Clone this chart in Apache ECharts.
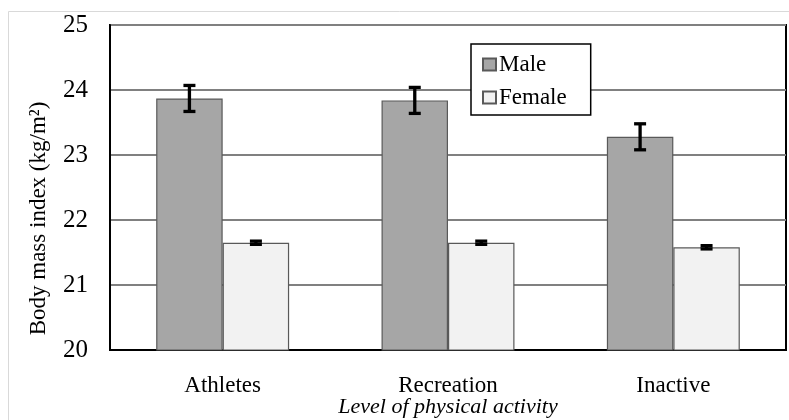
<!DOCTYPE html>
<html>
<head>
<meta charset="utf-8">
<script src="https://cdn.jsdelivr.net/npm/echarts@6/dist/echarts.min.js"></script>
<style>
html,body{margin:0;padding:0;background:#fff;}
#c{width:789px;height:420px;}
</style>
</head>
<body>
<div id="c"></div>
<script>
const categories = ['Athletes', 'Recreation', 'Inactive'];
const maleValues = [23.87, 23.84, 23.28];
const maleErrors = [0.2, 0.2, 0.2];
const femaleValues = [21.65, 21.65, 21.58];
const femaleErrors = [0.025, 0.025, 0.025];
const yTicks = [20, 21, 22, 23, 24, 25];

const FONT = '"Liberation Serif", "Times New Roman", serif';
const CAT_GAP = 0.41;

function errData(vals, errs) {
  return vals.map((v, i) => [i, v - errs[i], v + errs[i]]);
}
function errRender(side) {
  return function (params, api) {
    const i = api.value(0);
    const lo = api.coord([i, api.value(1)]);
    const hi = api.coord([i, api.value(2)]);
    const bw = api.size([1, 0])[0] * (1 - CAT_GAP) / 2;
    const x = lo[0] + side * bw / 2;
    const cap = 6;
    const st = { stroke: '#000', lineWidth: 3.3 };
    return {
      type: 'group',
      children: [
        { type: 'line', shape: { x1: x, y1: lo[1], x2: x, y2: hi[1] }, style: st },
        { type: 'line', shape: { x1: x - cap, y1: lo[1], x2: x + cap, y2: lo[1] }, style: st },
        { type: 'line', shape: { x1: x - cap, y1: hi[1], x2: x + cap, y2: hi[1] }, style: st }
      ]
    };
  };
}

const chart = echarts.init(document.getElementById('c'));
chart.setOption({
  animation: false,
  backgroundColor: '#fff',
  graphic: [{
    type: 'rect', left: 6, top: 9, z: -10,
    shape: { width: 790, height: 420 },
    style: { fill: 'none', stroke: '#d9d9d9', lineWidth: 1 }
  }],
  grid: {
    left: 110, right: 3, top: 25, bottom: 70, show: true,
    borderColor: '#000', borderWidth: 2, backgroundColor: 'transparent',
    containLabel: false, outerBoundsMode: 'none'
  },
  legend: {
    orient: 'vertical', left: 471, top: 44,
    data: ['Male', 'Female'],
    backgroundColor: '#fff', borderColor: '#000', borderWidth: 1.5,
    padding: [9, 24, 6, 11], itemGap: 10, itemWidth: 13, itemHeight: 12,
    textStyle: { fontFamily: FONT, fontSize: 23, color: '#000', padding: [0, 0, 0, -2] },
    icon: 'rect'
  },
  xAxis: {
    type: 'category', data: categories,
    axisLine: { show: true, lineStyle: { color: '#000', width: 2 } },
    axisTick: { show: false },
    axisLabel: { fontFamily: FONT, fontSize: 23, color: '#000', margin: 24 },
    name: 'Level of physical activity', nameLocation: 'middle', nameGap: 46,
    nameMoveOverlap: false,
    nameTextStyle: { fontFamily: FONT, fontSize: 22, fontStyle: 'italic', color: '#000' }
  },
  yAxis: {
    type: 'value', min: yTicks[0], max: yTicks[yTicks.length - 1], interval: 1,
    axisLine: { show: true, lineStyle: { color: '#000', width: 2 } },
    axisTick: { show: false },
    axisLabel: { fontFamily: FONT, fontSize: 25, color: '#000', margin: 22 },
    splitLine: { show: true, lineStyle: { color: '#808080', width: 2 } },
    name: 'Body mass index (kg/m²)', nameLocation: 'middle', nameGap: 60,
    nameMoveOverlap: false,
    nameTextStyle: { fontFamily: FONT, fontSize: 23, color: '#000', padding: [0, 62, 0, 0] }
  },
  series: [
    {
      name: 'Male', type: 'bar', data: maleValues,
      barGap: '0%', barCategoryGap: (CAT_GAP * 100) + '%',
      itemStyle: { color: '#a6a6a6', borderColor: '#595959', borderWidth: 1.2 }
    },
    {
      name: 'Female', type: 'bar', data: femaleValues,
      barGap: '0%', barCategoryGap: (CAT_GAP * 100) + '%',
      itemStyle: { color: '#f2f2f2', borderColor: '#595959', borderWidth: 1.2 }
    },
    {
      type: 'custom', name: 'maleErr', data: errData(maleValues, maleErrors),
      renderItem: errRender(-1), encode: { x: 0, y: [1, 2] }, z: 10
    },
    {
      type: 'custom', name: 'femaleErr', data: errData(femaleValues, femaleErrors),
      renderItem: errRender(1), encode: { x: 0, y: [1, 2] }, z: 10
    }
  ]
});
</script>
</body>
</html>
